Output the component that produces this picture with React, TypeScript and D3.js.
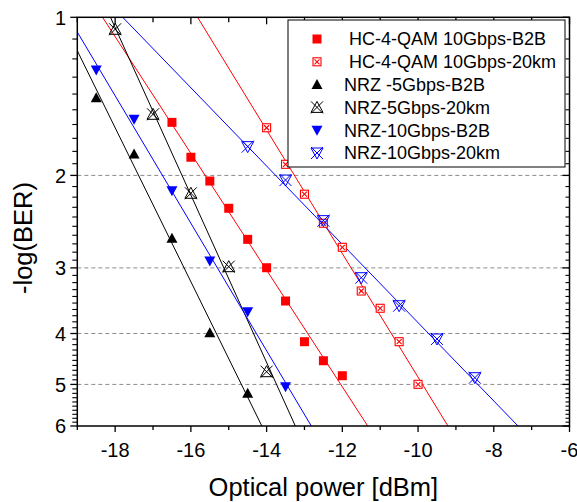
import React from "react";
import * as d3 from "d3";

const WIDTH = 577;
const HEIGHT = 502;
const PLOT = { left: 77.3, right: 569.5, top: 17.3, bottom: 426 };

// measured points: optical power [dBm] and -log(BER)
const hcB2bPower = [-16.5, -16, -15.5, -15, -14.5, -14, -13.5, -13, -12.5, -12];
const hcB2bBer = [1.585, 1.847, 2.05, 2.31, 2.647, 2.998, 3.469, 4.146, 4.507, 4.813];

const hc20kmPower = [-14, -13.5, -13, -12.5, -12, -11.5, -11, -10.5, -10];
const hc20kmBer = [1.623, 1.905, 2.172, 2.467, 2.741, 3.32, 3.581, 4.146, 4.998];

const nrz5B2bPower = [-18.5, -17.5, -16.5, -15.5, -14.5];
const nrz5B2bBer = [1.423, 1.821, 2.635, 3.986, 5.199];

const nrz5kmPower = [-18, -17, -16, -15, -14];
const nrz5kmBer = [1.054, 1.53, 2.163, 2.984, 4.729];

const nrz10B2bPower = [-18.5, -17.5, -16.5, -15.5, -14.5, -13.5];
const nrz10B2bBer = [1.26, 1.564, 2.139, 2.911, 3.636, 5.05];

const nrz10kmPower = [-14.5, -13.5, -12.5, -11.5, -10.5, -9.5, -8.5];
const nrz10kmBer = [1.763, 2.041, 2.439, 3.132, 3.541, 4.097, 4.855];

const legendLabels = [
  " HC-4-QAM 10Gbps-B2B",
  " HC-4-QAM 10Gbps-20km",
  "NRZ -5Gbps-B2B",
  "NRZ-5Gbps-20km",
  "NRZ-10Gbps-B2B",
  "NRZ-10Gbps-20km",
];

const yTicks = [1, 2, 3, 4, 5, 6];
const gridValues = [2, 3, 4, 5];
const xTickLabels = [-18, -16, -14, -12, -10, -8, -6];

type MarkerType = "square" | "squareX" | "triUp" | "triUpX" | "triDown" | "triDownX";

const series: { power: number[]; ber: number[]; color: string; marker: MarkerType }[] = [
  { power: hcB2bPower, ber: hcB2bBer, color: "#ff0000", marker: "square" },
  { power: hc20kmPower, ber: hc20kmBer, color: "#ff0000", marker: "squareX" },
  { power: nrz5B2bPower, ber: nrz5B2bBer, color: "#000000", marker: "triUp" },
  { power: nrz5kmPower, ber: nrz5kmBer, color: "#000000", marker: "triUpX" },
  { power: nrz10B2bPower, ber: nrz10B2bBer, color: "#0000ff", marker: "triDown" },
  { power: nrz10kmPower, ber: nrz10kmBer, color: "#0000ff", marker: "triDownX" },
];

const FONT = "'Liberation Sans', Arial, sans-serif";

// least squares fit of log10(-log BER) against power
const fit = (xs: number[], vs: number[]) => {
  const ys = vs.map((v) => Math.log10(v));
  const mx = d3.mean(xs)!;
  const my = d3.mean(ys)!;
  let num = 0;
  let den = 0;
  xs.forEach((x, i) => {
    num += (x - mx) * (ys[i] - my);
    den += (x - mx) * (x - mx);
  });
  const b = num / den;
  const a = my - b * mx;
  return (x: number) => Math.pow(10, a + b * x);
};

const Marker = ({ type, color, x, y }: { type: MarkerType; color: string; x: number; y: number }) => {
  if (type === "square") {
    return <rect x={x - 4.5} y={y - 4.5} width={9} height={9} fill={color} />;
  }
  if (type === "squareX") {
    const s = 4;
    return (
      <g stroke={color} strokeWidth={1.1} fill="#fff">
        <rect x={x - s} y={y - s} width={2 * s} height={2 * s} />
        <line x1={x - s + 1.5} y1={y - s + 1.5} x2={x + s - 1.5} y2={y + s - 1.5} />
        <line x1={x - s + 1.5} y1={y + s - 1.5} x2={x + s - 1.5} y2={y - s + 1.5} />
      </g>
    );
  }
  if (type === "triUp" || type === "triDown") {
    const d = type === "triUp" ? 1 : -1;
    const p = `M${x},${y - 5.5 * d}L${x + 5.5},${y + 4.5 * d}L${x - 5.5},${y + 4.5 * d}Z`;
    return <path d={p} fill={color} />;
  }
  const d = type === "triUpX" ? 1 : -1;
  const p = `M${x},${y - 6 * d}L${x + 6},${y + 5 * d}L${x - 6},${y + 5 * d}Z`;
  return (
    <g stroke={color} strokeWidth={1} fill="none">
      <path d={p} />
      <line x1={x - 6} y1={y - 6} x2={x + 6} y2={y + 6} />
      <line x1={x - 6} y1={y + 6} x2={x + 6} y2={y - 6} />
    </g>
  );
};

const App = () => {
  const x = d3.scaleLinear().domain([-19, -6]).range([PLOT.left, PLOT.right]);
  const y = d3.scaleLog().domain([1, 6]).range([PLOT.top, PLOT.bottom]);

  const xMinor = d3.range(-19, -5, 1);
  const yMinor = d3.range(10, 60, 1).map((v) => v / 10).filter((v) => v % 1 !== 0);

  const lineGen = d3
    .line<number>()
    .x((d) => d[0])
    .y((d) => d[1]);

  return (
    <svg
      width={WIDTH}
      height={HEIGHT}
      style={{ position: "absolute", left: 0, top: 0, background: "#fff" }}
      fontFamily={FONT}
    >
      <defs>
        <clipPath id="plot-clip">
          <rect x={PLOT.left} y={PLOT.top} width={PLOT.right - PLOT.left} height={PLOT.bottom - PLOT.top} />
        </clipPath>
      </defs>

      {/* dashed horizontal grid */}
      {gridValues.map((v) => (
        <line
          key={v}
          x1={PLOT.left}
          x2={PLOT.right}
          y1={y(v)}
          y2={y(v)}
          stroke="#8c8c8c"
          strokeWidth={1}
          strokeDasharray="4,3"
        />
      ))}

      {/* fitted lines */}
      <g clipPath="url(#plot-clip)">
        {series.map((s, i) => {
          const f = fit(s.power, s.ber);
          const pts = [-19, -6].map((p) => [x(p), y(f(p))] as [number, number]);
          return <path key={i} d={lineGen(pts as any) || ""} stroke={s.color} strokeWidth={1} fill="none" />;
        })}
      </g>

      {/* markers */}
      {series.map((s, i) => (
        <g key={i}>
          {s.power.map((p, j) => (
            <Marker key={j} type={s.marker} color={s.color} x={x(p)} y={y(s.ber[j])} />
          ))}
        </g>
      ))}

      {/* frame */}
      <rect
        x={PLOT.left}
        y={PLOT.top}
        width={PLOT.right - PLOT.left}
        height={PLOT.bottom - PLOT.top}
        fill="none"
        stroke="#000"
        strokeWidth={1.5}
      />

      {/* bottom & top ticks */}
      {xMinor.map((v) => {
        const major = v % 2 === 0;
        return (
          <g key={v} stroke="#000" strokeWidth={1.3}>
            <line x1={x(v)} x2={x(v)} y1={PLOT.bottom} y2={PLOT.bottom + (major ? 6 : 4)} />
            <line x1={x(v)} x2={x(v)} y1={PLOT.top} y2={PLOT.top + (major ? 7 : 5)} />
          </g>
        );
      })}
      {xTickLabels.map((v) => (
        <text key={v} x={x(v)} y={457} textAnchor="middle" fontSize={20}>
          {v}
        </text>
      ))}

      {/* left & right ticks */}
      {yTicks.map((v) => (
        <g key={v} stroke="#000" strokeWidth={1.3}>
          <line x1={PLOT.left - 7} x2={PLOT.left} y1={y(v)} y2={y(v)} />
          <line x1={PLOT.right - 7} x2={PLOT.right} y1={y(v)} y2={y(v)} />
        </g>
      ))}
      {yMinor.map((v) => (
        <g key={v} stroke="#000" strokeWidth={1.1}>
          <line x1={PLOT.left - 5} x2={PLOT.left} y1={y(v)} y2={y(v)} />
          <line x1={PLOT.right - 4} x2={PLOT.right} y1={y(v)} y2={y(v)} />
        </g>
      ))}
      {yTicks.map((v) => (
        <text key={v} x={66} y={y(v)} dy="0.36em" textAnchor="end" fontSize={20}>
          {v}
        </text>
      ))}

      {/* axis titles */}
      <text x={(PLOT.left + PLOT.right) / 2} y={496} textAnchor="middle" fontSize={25.5}>
        Optical power [dBm]
      </text>
      <text transform={`translate(32, 238) rotate(-90)`} textAnchor="middle" fontSize={25.5}>
        -log(BER)
      </text>

      {/* legend */}
      <g>
        <rect x={288} y={20} width={277} height={147} fill="#fff" stroke="#000" strokeWidth={1} />
        {legendLabels.map((label, i) => {
          const cy = 39 + i * 22.8;
          return (
            <g key={label}>
              <Marker type={series[i].marker} color={series[i].color} x={317} y={cy} />
              <text x={344} y={cy} dy="0.36em" fontSize={18} style={{ whiteSpace: "pre" }}>
                {label}
              </text>
            </g>
          );
        })}
      </g>
    </svg>
  );
};

export default App;
